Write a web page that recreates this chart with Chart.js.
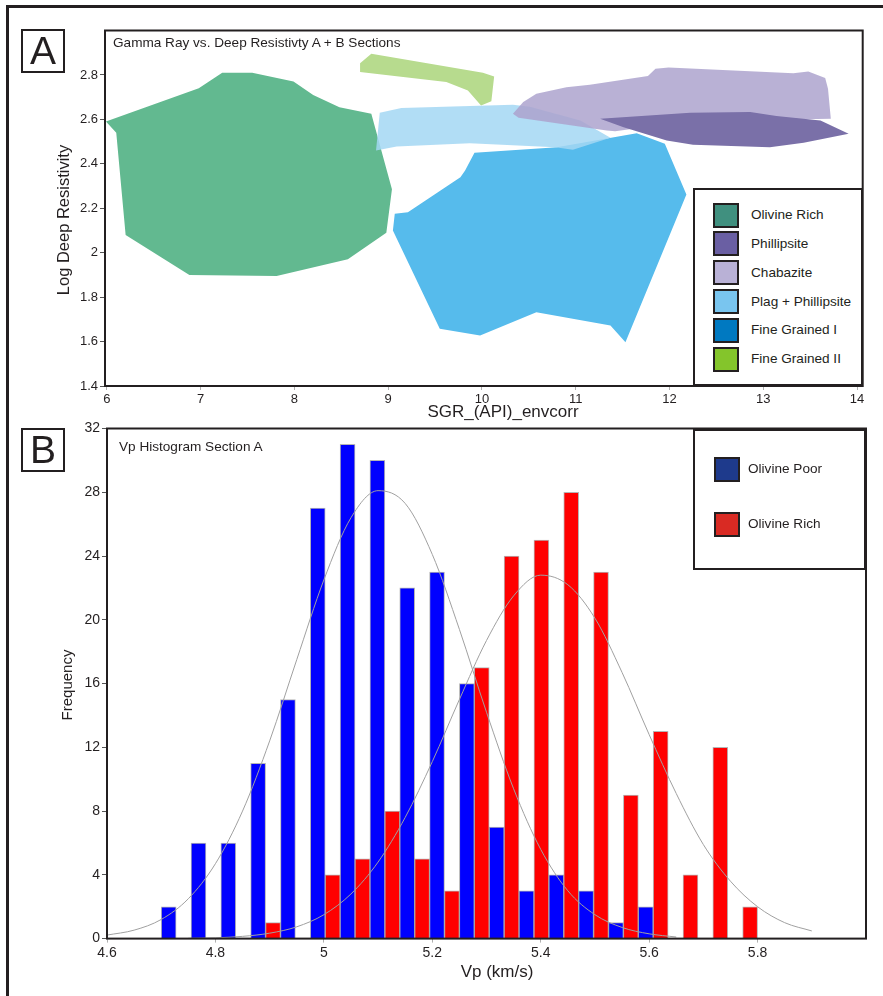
<!DOCTYPE html>
<html>
<head>
<meta charset="utf-8">
<title>Gamma Ray vs. Deep Resistivity / Vp Histogram</title>
<script src="https://cdn.jsdelivr.net/npm/chart.js@4.4.1/dist/chart.umd.min.js"></script>
<style>
  html, body { margin: 0; padding: 0; background: #fff; }
  body {
    width: 883px; height: 996px; position: relative; overflow: hidden;
    font-family: "Liberation Sans", Arial, sans-serif; color: #231f20;
  }
  .abs { position: absolute; }
  canvas { position: absolute; left: 0; }
  #frameTop { left: 6px; top: 5px; width: 877px; height: 3px; background: #231f20; }
  #frameLeft { left: 6px; top: 5px; width: 3px; height: 991px; background: #231f20; }
  .letter {
    box-sizing: border-box; width: 44px; height: 44px; border: 2px solid #231f20;
    font-size: 39px; line-height: 40px; text-align: center;
  }
  .plotTitle { font-size: 13.6px; line-height: 16px; white-space: nowrap; }
  .axisTitle { text-align: center; white-space: nowrap; }
  .legendBox { box-sizing: border-box; border: 2px solid #231f20; background: #fff; }
  .swatch { box-sizing: border-box; width: 26px; height: 25px; border: 2px solid #231f20; }
  .legendText { font-size: 13.6px; line-height: 16px; white-space: nowrap; }
</style>
</head>
<body>
<div id="frameTop" class="abs"></div>
<div id="frameLeft" class="abs"></div>

<canvas id="chartA" width="883" height="420" style="top:0"></canvas>
<canvas id="chartB" width="883" height="586" style="top:410px"></canvas>

<div class="abs letter" style="left:21px; top:29px;">A</div>
<div class="abs letter" style="left:21px; top:428px;">B</div>

<div class="abs plotTitle" style="left:113px; top:35px;">Gamma Ray vs. Deep Resistivty A + B Sections</div>
<div class="abs plotTitle" style="left:119px; top:439px;">Vp Histogram Section A</div>

<div class="abs axisTitle" style="left:-37px; top:210px; width:200px; font-size:16.5px; line-height:20px; transform:rotate(-90deg);">Log Deep Resistivity</div>
<div class="abs axisTitle" style="left:403px; top:402px; width:200px; font-size:17px; line-height:20px;">SGR_(API)_envcorr</div>
<div class="abs axisTitle" style="left:-33px; top:676px; width:200px; font-size:15px; line-height:18px; transform:rotate(-90deg);">Frequency</div>
<div class="abs axisTitle" style="left:397px; top:962px; width:200px; font-size:17px; line-height:20px;">Vp (km/s)</div>

<div id="legendA" class="abs legendBox" style="left:693px; top:188px; width:170px; height:198px;"></div>
<div id="legendB" class="abs legendBox" style="left:693px; top:429px; width:173px; height:141px;"></div>

<script>
// ---- Panel A: outlines of each facies in SGR / log deep resistivity space ----
const xTicksA = [6, 7, 8, 9, 10, 11, 12, 13, 14];
const yTicksA = [1.4, 1.6, 1.8, 2, 2.2, 2.4, 2.6, 2.8];

const olivineRich = [[5.99, 2.59], [6.98, 2.74], [7.23, 2.81], [7.55, 2.81], [7.99, 2.77], [8.20, 2.71],
  [8.48, 2.655], [8.82, 2.625], [9.04, 2.285], [8.98, 2.09], [8.57, 1.97], [7.81, 1.895],
  [6.88, 1.90], [6.20, 2.08], [6.10, 2.54]];
const fineGrainedII = [[8.70, 2.853], [8.82, 2.895], [10.01, 2.81], [10.13, 2.793], [10.10, 2.682],
  [9.99, 2.663], [9.85, 2.73], [9.62, 2.768], [8.70, 2.813]];
const fineGrainedI = [[9.92, 2.45], [10.80, 2.475], [11.65, 2.538], [11.95, 2.49], [12.18, 2.262],
  [11.53, 1.597], [11.37, 1.672], [10.58, 1.732], [9.98, 1.627], [9.55, 1.658], [9.05, 2.10],
  [9.07, 2.175], [9.21, 2.182], [9.77, 2.34], [9.82, 2.37]];
const plagPhillipsite = [[8.91, 2.63], [9.14, 2.651], [10.33, 2.666], [10.51, 2.657], [11.05, 2.595],
  [11.37, 2.517], [10.97, 2.463], [10.78, 2.475], [9.87, 2.493], [9.09, 2.478], [8.87, 2.46]];
const chabazite = [[10.33, 2.625], [10.44, 2.678], [10.58, 2.715], [10.90, 2.745], [11.15, 2.756],
  [11.77, 2.795], [11.85, 2.828], [11.99, 2.833], [13.32, 2.808], [13.48, 2.816], [13.66, 2.786],
  [13.69, 2.738], [13.72, 2.603], [13.29, 2.60], [12.33, 2.60], [11.42, 2.547], [11.33, 2.55],
  [10.39, 2.607]];
const phillipsite = [[11.26, 2.603], [12.22, 2.63], [12.86, 2.633], [13.14, 2.615], [13.61, 2.595],
  [13.91, 2.535], [13.43, 2.495], [13.07, 2.475], [12.25, 2.486], [11.97, 2.505], [11.51, 2.565]];

const legendNamesA = ['Olivine Rich', 'Phillipsite', 'Chabazite', 'Plag + Phillipsite', 'Fine Grained I', 'Fine Grained II'];
const legendColorsA = ['#40907f', '#6a5fa3', '#b9b1d6', '#79c5ef', '#0079c1', '#84c52b'];

// ---- Panel B: Vp histogram, bins of 0.055 km/s from 4.70 to 5.80 ----
const xTicksB = [4.6, 4.8, 5, 5.2, 5.4, 5.6, 5.8];
const yTicksB = [0, 4, 8, 12, 16, 20, 24, 28, 32];
const binCenters = [4.7275, 4.7825, 4.8375, 4.8925, 4.9475, 5.0025, 5.0575, 5.1125, 5.1675, 5.2225,
  5.2775, 5.3325, 5.3875, 5.4425, 5.4975, 5.5525, 5.6075, 5.6625, 5.7175, 5.7725];
const olivinePoorFreq = [2, 6, 6, 11, 15, 27, 31, 30, 22, 23, 16, 7, 3, 4, 3, 1, 2, 0, 0, 0];
const olivineRichFreq = [0, 0, 0, 1, 0, 4, 5, 8, 5, 3, 17, 24, 25, 28, 23, 9, 13, 4, 12, 2];

// fitted curves, values
const poorCurveX = [4.60, 4.65, 4.70, 4.75, 4.80, 4.85, 4.90, 4.95, 5.00, 5.05, 5.10,
  5.15, 5.20, 5.25, 5.30, 5.35, 5.40, 5.45, 5.50, 5.55, 5.60, 5.65];
const poorCurveY = [0.22, 0.53, 1.2, 2.5, 4.7, 8.0, 12.4, 17.5, 22.5, 26.4, 28.1,
  27.3, 24.1, 19.4, 14.2, 9.4, 5.6, 3.0, 1.5, 0.7, 0.3, 0.1];
const richCurveX = [4.75, 4.80, 4.85, 4.90, 4.95, 5.00, 5.05, 5.10, 5.15, 5.20, 5.25, 5.30,
  5.35, 5.40, 5.45, 5.50, 5.55, 5.60, 5.65, 5.70, 5.75, 5.80, 5.85, 5.90];
const richCurveY = [0.02, 0.05, 0.14, 0.34, 0.74, 1.5, 2.8, 4.8, 7.6, 11.1, 15.0, 18.7,
  21.5, 22.8, 22.2, 20.1, 16.7, 12.8, 9.1, 5.9, 3.6, 2.0, 1.0, 0.48];

const legendNamesB = ['Olivine Poor', 'Olivine Rich'];
const legendColorsB = ['#1e3a8c', '#d92a23'];

const FONT = '"Liberation Sans", Arial, sans-serif';
const INK = '#231f20';

const plotFrame = {
  id: 'plotFrame',
  afterDraw(chart) {
    const { ctx, chartArea: a } = chart;
    ctx.save();
    ctx.strokeStyle = INK;
    ctx.lineWidth = 2;
    ctx.strokeRect(a.left, a.top, a.right - a.left, a.bottom - a.top);
    ctx.restore();
  }
};

function fixedTicks(values) {
  return scale => { scale.ticks = values.map(v => ({ value: v })); };
}

function axis(opts) {
  return Object.assign({
    type: 'linear',
    border: { display: false },
    grid: { offset: false, drawOnChartArea: false, drawTicks: true, tickLength: 4, color: '#b0b0b0' },
    ticks: { font: { family: FONT, size: 13 }, color: INK, padding: 2, callback: v => String(v) }
  }, opts);
}

const yGrid = { offset: false, drawOnChartArea: false, drawTicks: true, tickLength: 5, color: '#555' };

function polygon(points, color) {
  const data = points.map(p => ({ x: p[0], y: p[1] }));
  data.push({ x: points[0][0], y: points[0][1] });
  return {
    data,
    backgroundColor: color,
    borderColor: 'rgba(0,0,0,0)',
    borderWidth: 0,
    pointRadius: 0,
    tension: 0,
    fill: 'shape'
  };
}

// --- Chart A ---
new Chart(document.getElementById('chartA'), {
  type: 'line',
  data: {
    datasets: [
      polygon(olivineRich, '#62b990'),
      polygon(fineGrainedII, '#b7db8e'),
      polygon(fineGrainedI, '#56bbec'),
      polygon(plagPhillipsite, 'rgba(163,215,243,0.85)'),
      polygon(chabazite, 'rgba(173,163,206,0.85)'),
      polygon(phillipsite, '#7a70a8')
    ].map((d, i, arr) => Object.assign(d, { order: arr.length - i }))
  },
  options: {
    responsive: false,
    devicePixelRatio: 1,
    animation: false,
    layout: { padding: { top: 30.5, right: 20.3, bottom: 0, left: 0 } },
    plugins: { legend: { display: false }, tooltip: { enabled: false } },
    scales: {
      x: axis({ min: 5.98, max: 14.06, afterBuildTicks: fixedTicks(xTicksA), afterFit: s => { s.height = 34; } }),
      y: axis({ min: 1.4, max: 3.0, afterBuildTicks: fixedTicks(yTicksA), afterFit: s => { s.width = 105; },
        grid: yGrid })
    }
  },
  plugins: [plotFrame]
});

// --- Chart B ---
const bTicks = { font: { family: FONT, size: 14 }, color: INK, padding: 2, callback: v => String(v) };
new Chart(document.getElementById('chartB'), {
  type: 'bar',
  data: {
    datasets: [
      {
        type: 'line', order: 0,
        data: poorCurveX.map((x, i) => ({ x, y: poorCurveY[i] })),
        borderColor: '#a0a0a0', borderWidth: 1, pointRadius: 0, cubicInterpolationMode: 'monotone'
      },
      {
        type: 'line', order: 0,
        data: richCurveX.map((x, i) => ({ x, y: richCurveY[i] })),
        borderColor: '#a0a0a0', borderWidth: 1, pointRadius: 0, cubicInterpolationMode: 'monotone'
      },
      {
        label: 'Olivine Poor', order: 1,
        data: binCenters.map((x, i) => ({ x, y: olivinePoorFreq[i] })),
        backgroundColor: '#0000ff', borderColor: 'rgba(90,90,90,0.45)', borderWidth: 1,
        categoryPercentage: 1, barPercentage: 1
      },
      {
        label: 'Olivine Rich', order: 1,
        data: binCenters.map((x, i) => ({ x, y: olivineRichFreq[i] })),
        backgroundColor: '#ff0000', borderColor: 'rgba(90,90,90,0.45)', borderWidth: 1,
        categoryPercentage: 1, barPercentage: 1
      }
    ]
  },
  options: {
    responsive: false,
    devicePixelRatio: 1,
    animation: false,
    layout: { padding: { top: 18.5, right: 17, bottom: 0, left: 0 } },
    plugins: { legend: { display: false }, tooltip: { enabled: false } },
    scales: {
      x: axis({ min: 4.6, max: 6.0, offset: false, afterBuildTicks: fixedTicks(xTicksB),
        afterFit: s => { s.height = 57.4; }, ticks: bTicks }),
      y: axis({ min: 0, max: 32, afterBuildTicks: fixedTicks(yTicksB),
        afterFit: s => { s.width = 107; }, ticks: bTicks, grid: yGrid })
    }
  },
  plugins: [plotFrame]
});

// --- legends ---
function buildLegend(el, names, colors, swatchLeft, textLeft, firstCenter, step) {
  names.forEach((name, i) => {
    const cy = firstCenter + i * step;
    const sw = document.createElement('div');
    sw.className = 'abs swatch';
    sw.style.left = swatchLeft + 'px';
    sw.style.top = (cy - 12.5) + 'px';
    sw.style.background = colors[i];
    el.appendChild(sw);
    const tx = document.createElement('div');
    tx.className = 'abs legendText';
    tx.style.left = textLeft + 'px';
    tx.style.top = (cy - 8) + 'px';
    tx.textContent = name;
    el.appendChild(tx);
  });
}
// offsets are relative to each legend box (inside its 2px border)
buildLegend(document.getElementById('legendA'), legendNamesA, legendColorsA, 18, 56, 25, 28.85);
buildLegend(document.getElementById('legendB'), legendNamesB, legendColorsB, 19, 53, 38, 55);
</script>
</body>
</html>
